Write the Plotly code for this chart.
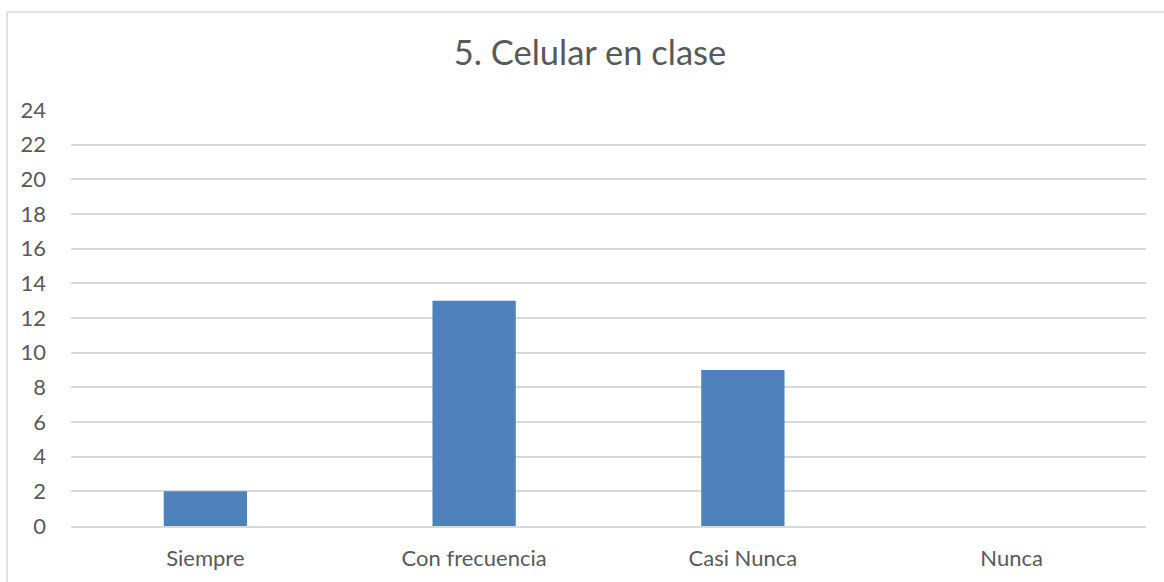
import plotly.graph_objects as go

categories = ["Siempre", "Con frecuencia", "Casi Nunca", "Nunca"]
values = [2, 13, 9, 0]
y_ticks = list(range(0, 25, 2))

W, H = 1164, 582
L, R, T, B = 71, 18, 110, 56
pw, ph = W - L - R, H - T - B

fig = go.Figure(go.Bar(x=categories, y=values, marker=dict(color="#4F81BD", line=dict(width=0))))

fig.update_layout(
    width=W, height=H,
    margin=dict(l=L, r=R, t=T, b=B, autoexpand=False),
    paper_bgcolor="white", plot_bgcolor="white",
    bargap=0.69,
    showlegend=False,
    font=dict(family="Lato, 'Open Sans', sans-serif", color="#595959", size=22),
    title=dict(text="5. Celular en clase", x=590 / W, xanchor="center", y=1 - 53 / H, yanchor="middle",
               xref="container", yref="container", font=dict(size=34.5, color="#595959")),
    xaxis=dict(showgrid=False, showline=True, linecolor="#D9D9D9", linewidth=1.5, automargin=False,
               ticks="", ticklabelstandoff=12, tickfont=dict(size=22)),
    yaxis=dict(range=[0, 24], tickvals=y_ticks, showgrid=True, gridcolor="#D9D9D9", gridwidth=1.5,
               automargin=False, zeroline=False, showline=False, ticks="", ticklabelstandoff=24,
               tickfont=dict(size=22)),
    shapes=[
        dict(type="line", xref="paper", yref="paper",
             x0=(7 - L) / pw, x1=(W + 5 - L) / pw, y0=1 + (T - 12) / ph, y1=1 + (T - 12) / ph,
             line=dict(color="#D9D9D9", width=1.5)),
        dict(type="line", xref="paper", yref="paper",
             x0=(7 - L) / pw, x1=(7 - L) / pw, y0=1 + (T - 12) / ph, y1=-(B + 5) / ph,
             line=dict(color="#D9D9D9", width=1.5)),
    ],
)

fig.write_html("out.html", config={"displayModeBar": False},
               post_script="document.body.style.margin='0';")
